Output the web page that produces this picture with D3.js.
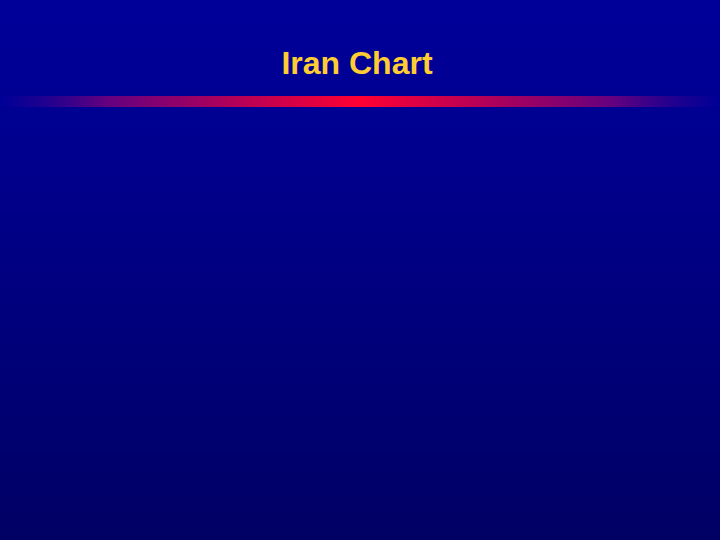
<!DOCTYPE html>
<html>
<head>
<meta charset="utf-8">
<script src="https://cdn.jsdelivr.net/npm/d3@7"></script>
<style>
  body { margin: 0; background: #000066; }
</style>
</head>
<body>
<svg id="chart"></svg>
<script>
// Slide text
const title = 'Iran Chart';

// Gradient stops for the background and the rule under the title
const bgStops = [
    { offset: '0%', color: '#000099' },
    { offset: '25%', color: '#000090' },
    { offset: '100%', color: '#000064' }
];
const ruleStops = [
    { offset: '0%', color: '#000099', opacity: 0.6 },
    { offset: '15%', color: '#66007f', opacity: 1 },
    { offset: '50%', color: '#ff0033', opacity: 1 },
    { offset: '85%', color: '#66007f', opacity: 1 },
    { offset: '100%', color: '#000099', opacity: 0.6 }
];

const width = 720;
const height = 540;

const svg = d3.select('#chart')
    .attr('width', width)
    .attr('height', height);

const defs = svg.append('defs');

// Vertical background fade
defs.append('linearGradient')
    .attr('id', 'bg')
    .attr('x1', 0).attr('y1', 0)
    .attr('x2', 0).attr('y2', 1)
  .selectAll('stop')
    .data(bgStops)
  .enter().append('stop')
    .attr('offset', d => d.offset)
    .attr('stop-color', d => d.color);

// Horizontal red rule
defs.append('linearGradient')
    .attr('id', 'rule')
    .attr('x1', 0).attr('y1', 0)
    .attr('x2', 1).attr('y2', 0)
  .selectAll('stop')
    .data(ruleStops)
  .enter().append('stop')
    .attr('offset', d => d.offset)
    .attr('stop-color', d => d.color)
    .attr('stop-opacity', d => d.opacity);

svg.append('rect')
    .attr('width', width)
    .attr('height', height)
    .attr('fill', 'url(#bg)');

svg.append('rect')
    .attr('x', 0)
    .attr('y', 96)
    .attr('width', width)
    .attr('height', 11)
    .attr('fill', 'url(#rule)');

// Title
svg.append('text')
    .attr('x', 357)
    .attr('y', 74)
    .attr('text-anchor', 'middle')
    .style('font-family', '"Liberation Sans", Arial, sans-serif')
    .style('font-weight', 'bold')
    .style('font-size', '32px')
    .attr('fill', '#ffcc33')
    .text(title);
</script>
</body>
</html>
